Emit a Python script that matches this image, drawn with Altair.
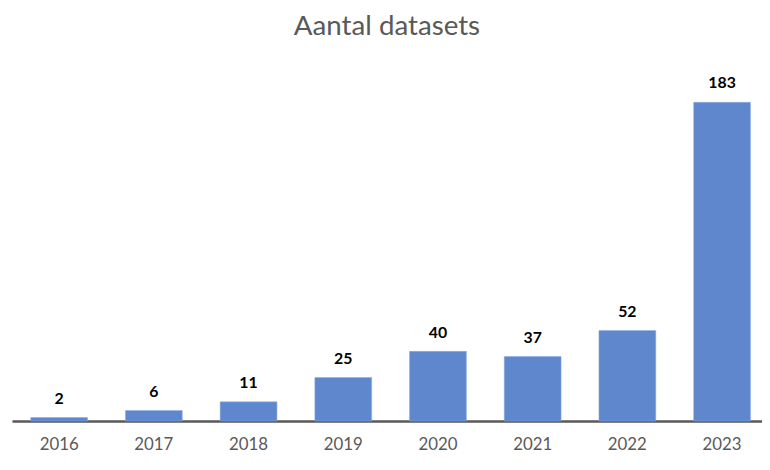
import altair as alt
import pandas as pd

years = ["2016", "2017", "2018", "2019", "2020", "2021", "2022", "2023"]
counts = [2, 6, 11, 25, 40, 37, 52, 183]

df = pd.DataFrame({"jaar": years, "aantal": counts})

x = alt.X("jaar:N", sort=years, title=None,
          scale=alt.Scale(paddingInner=0.40, paddingOuter=0.16, align=0.62),
          axis=alt.Axis(labelAngle=0, ticks=False, domainColor="#595959", domainWidth=2.5,
                        labelFont="Lato", labelFontSize=17, labelColor="#595959",
                        labelPadding=16, grid=False))
y = alt.Y("aantal:Q", title=None, scale=alt.Scale(domain=[0, 200], nice=False),
          axis=None)

bars = alt.Chart(df).mark_bar(color="#5F87CE", stroke="#8EABE0", strokeWidth=0.5).encode(x=x, y=y)
labels = alt.Chart(df).mark_text(font="Lato", fontSize=16, fontWeight="bold", color="#000000",
                                 baseline="alphabetic", dy=-14).encode(
    x=x, y=y, text="aantal:Q")

chart = (bars + labels).properties(
    width=758, height=352,
    autosize=alt.AutoSizeParams(type="none"),
    padding={"left": 4, "top": 63, "right": 0, "bottom": 39},
    title=alt.TitleParams("Aantal datasets", font="Lato", fontSize=28, fontWeight="normal",
                          color="#595959", anchor="middle", baseline="bottom",
                          frame="group", offset=4),
).configure_view(stroke=None)

chart.save("out.html", embed_options={"renderer": "svg", "actions": False})
